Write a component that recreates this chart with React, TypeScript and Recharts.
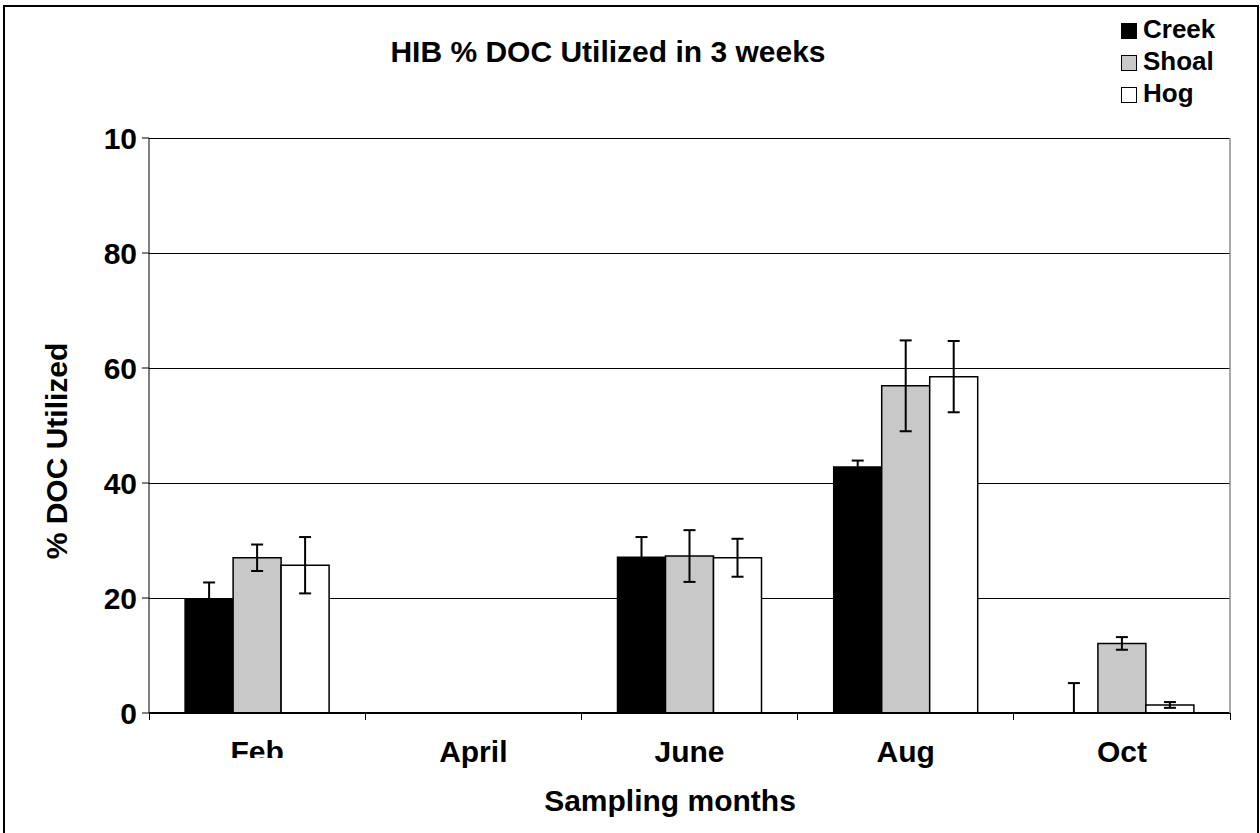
import React from "react";
import { BarChart, Bar, XAxis, YAxis, CartesianGrid, ErrorBar, Legend } from "recharts";

const months = ["Feb", "April", "June", "Aug", "Oct"];
const seriesNames = ["Creek", "Shoal", "Hog"];
const creek = [19.8, null, 27.1, 42.8, 0];
const shoal = [27.0, null, 27.3, 56.9, 12.1];
const hog = [25.7, null, 27.0, 58.5, 1.4];
// error bars: a number is +/-, a pair is [below, above]
const creekErr = [2.9, null, 3.5, 1.1, [0, 5.2]];
const shoalErr = [2.3, null, 4.5, 7.9, 1.1];
const hogErr = [4.9, null, 3.3, 6.2, 0.5];

const yTicks = [0, 20, 40, 60, 80, 100];
// the top label is cut to "10" in the original
const yTickLabels = ["0", "20", "40", "60", "80", "10"];

const FONT = "'Liberation Sans', Arial, sans-serif";
const SHOAL_GREY = "#C8C8C8";

// recharts skips bars of exactly 0, and their error bars with them,
// so a zero is handed over as a value too small to see
const ZERO = 0.0001;
const bar = (v: number | null) => (v === 0 ? ZERO : v);

const data = months.map((m, i) => ({
  month: m,
  Creek: bar(creek[i]),
  Shoal: bar(shoal[i]),
  Hog: bar(hog[i]),
  creekErr: creekErr[i],
  shoalErr: shoalErr[i],
  hogErr: hogErr[i],
}));

function MonthTick(props: any) {
  const { x, y, payload, index } = props;
  const half = payload?.offset ?? 0;
  const axisY = y - 28;
  const isLast = index === months.length - 1;
  const clipId = `tick-clip-${index}`;
  return (
    <g>
      <line x1={x - half} y1={axisY} x2={x - half} y2={axisY + 7} stroke="#000" strokeWidth={1} shapeRendering="crispEdges" />
      {isLast && (
        <line x1={x + half} y1={axisY} x2={x + half} y2={axisY + 7} stroke="#000" strokeWidth={1} shapeRendering="crispEdges" />
      )}
      {index === 0 && (
        <defs>
          <clipPath id={clipId}>
            <rect x={x - 60} y={axisY} width={120} height={45} />
          </clipPath>
        </defs>
      )}
      <text
        x={x}
        y={y}
        dy="0.71em"
        textAnchor="middle"
        fontFamily={FONT}
        fontWeight="bold"
        fontSize={30}
        fill="#000"
        clipPath={index === 0 ? `url(#${clipId})` : undefined}
      >
        {payload.value}
      </text>
    </g>
  );
}

function renderLegend(props: any) {
  const items = [...(props.payload || [])].sort(
    (a: any, b: any) => seriesNames.indexOf(a.value) - seriesNames.indexOf(b.value)
  );
  return (
    <div style={{ fontFamily: FONT, fontWeight: "bold", fontSize: 26, color: "#000" }}>
      {items.map((entry: any) => (
        <div key={entry.value} style={{ display: "flex", alignItems: "center", height: 32, lineHeight: "32px" }}>
          <span
            style={{
              display: "inline-block",
              width: 16,
              height: 16,
              boxSizing: "border-box",
              border: "1.5px solid #000",
              background: entry.payload?.fill ?? entry.color,
              marginRight: 6,
              marginTop: 4,
            }}
          />
          <span>{entry.value}</span>
        </div>
      ))}
    </div>
  );
}

export default function App() {
  return (
    <div
      style={{
        position: "absolute",
        left: 0,
        top: 0,
        width: 1260,
        height: 833,
        overflow: "hidden",
        background: "#fff",
      }}
    >
      <div
        style={{
          position: "absolute",
          left: 3,
          top: 5,
          width: 1256,
          height: 900,
          boxSizing: "border-box",
          border: "2px solid #000",
        }}
      />
      <div style={{ position: "absolute", left: 0, top: 0 }}>
        <BarChart
          width={1260}
          height={833}
          data={data}
          margin={{ top: 138, right: 0, bottom: 20, left: 0 }}
          barCategoryGap="16.7%"
          barGap={0}
        >
          <CartesianGrid vertical={false} stroke="#000" strokeWidth={1} shapeRendering="crispEdges" />
          <XAxis
            dataKey="month"
            height={100}
            interval={0}
            tickLine={false}
            tickSize={7}
            tickMargin={21}
            axisLine={{ stroke: "#000", strokeWidth: 2 }}
            tick={<MonthTick />}
          />
          <YAxis
            width={149}
            domain={[0, 100]}
            ticks={yTicks}
            allowDataOverflow
            interval={0}
            tickSize={7}
            tickMargin={5}
            tickFormatter={(v: number) => yTickLabels[yTicks.indexOf(v)] ?? String(v)}
            tick={{ fill: "#000", fontSize: 30, fontWeight: "bold", fontFamily: FONT }}
            axisLine={{ stroke: "#000", strokeWidth: 1 }}
            tickLine={{ stroke: "#000", strokeWidth: 1 }}
          />
          <YAxis
            yAxisId="frame"
            orientation="right"
            width={30}
            domain={[0, 100]}
            tick={false}
            tickLine={false}
            axisLine={{ stroke: "#8C8C8C", strokeWidth: 1.5 }}
          />
          <Legend
            layout="horizontal"
            verticalAlign="middle"
            align="center"
            wrapperStyle={{ top: 13, left: 1121, width: 135, height: 100 }}
            content={renderLegend}
          />
          <Bar dataKey="Creek" fill="#000" stroke="#000" strokeWidth={1.5} isAnimationActive={false}>
            <ErrorBar dataKey="creekErr" direction="y" width={6} stroke="#000" strokeWidth={2} />
          </Bar>
          <Bar dataKey="Shoal" fill={SHOAL_GREY} stroke="#000" strokeWidth={1.5} isAnimationActive={false}>
            <ErrorBar dataKey="shoalErr" direction="y" width={6} stroke="#000" strokeWidth={2} />
          </Bar>
          <Bar dataKey="Hog" fill="#fff" stroke="#000" strokeWidth={1.5} isAnimationActive={false}>
            <ErrorBar dataKey="hogErr" direction="y" width={6} stroke="#000" strokeWidth={2} />
          </Bar>
        </BarChart>
      </div>
      <svg
        width={1260}
        height={833}
        style={{ position: "absolute", left: 0, top: 0, pointerEvents: "none" }}
      >
        <text x={608} y={62} textAnchor="middle" fontFamily={FONT} fontWeight="bold" fontSize={30} fill="#000">
          HIB % DOC Utilized in 3 weeks
        </text>
        <text x={670} y={811} textAnchor="middle" fontFamily={FONT} fontWeight="bold" fontSize={30} fill="#000">
          Sampling months
        </text>
        <text
          x={0}
          y={0}
          transform="translate(67 451) rotate(-90)"
          textAnchor="middle"
          fontFamily={FONT}
          fontWeight="bold"
          fontSize={30}
          fill="#000"
        >
          % DOC Utilized
        </text>
      </svg>
    </div>
  );
}
